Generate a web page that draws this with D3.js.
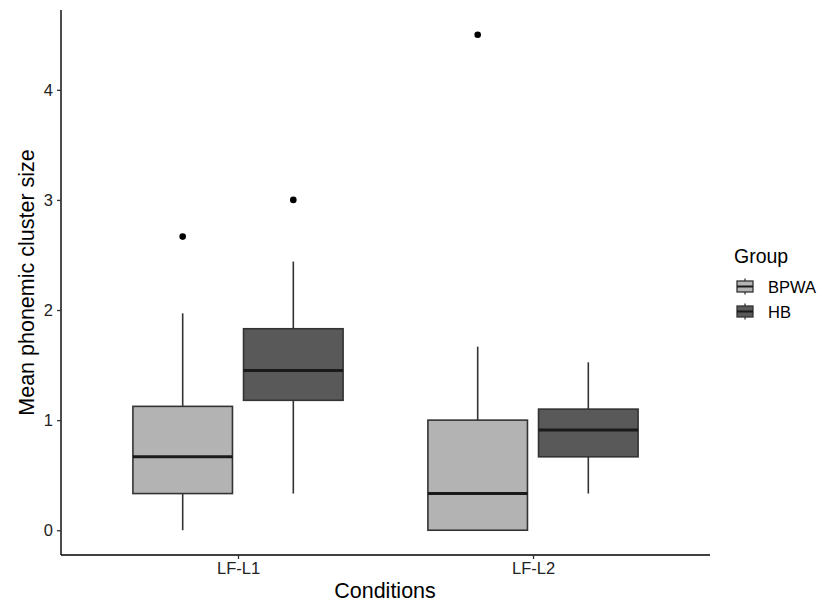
<!DOCTYPE html>
<html>
<head>
<meta charset="utf-8">
<script src="https://cdn.jsdelivr.net/npm/d3@7"></script>
<style>
  body { margin: 0; background: #fff; }
  svg { font-family: "Liberation Sans", Arial, sans-serif; }
</style>
</head>
<body>
<svg id="chart" width="823" height="605"></svg>
<script>
// boxplot data
const conditions = ['LF-L1', 'LF-L2'];
const groups = ['BPWA', 'HB'];
const yTicks = [0, 1, 2, 3, 4];

// one entry per condition x group: [lowerWhisker, q1, median, q3, upperWhisker]
const statsBPWA = [
  [0, 0.333, 0.667, 1.125, 1.97],
  [0, 0, 0.333, 1.0, 1.667]
];
const statsHB = [
  [0.333, 1.18, 1.45, 1.83, 2.44],
  [0.333, 0.667, 0.91, 1.1, 1.525]
];
const outliersBPWA = [[2.667], [4.5]];
const outliersHB = [[3.0], []];

const fills = { BPWA: '#b3b3b3', HB: '#595959' };

const svg = d3.select('#chart');
const margin = { left: 61, right: 113, top: 10, bottom: 50 };
const width = 823, height = 605;
const x0 = margin.left, x1 = width - margin.right;
const yTop = margin.top, yBot = height - margin.bottom;

// ggplot-like expansion: 5% continuous, 0.6 units discrete
const yMin = 0, yMax = 4.5, pad = (yMax - yMin) * 0.05;
const y = d3.scaleLinear().domain([yMin - pad, yMax + pad]).range([yBot, yTop]);
const xPos = d3.scaleLinear().domain([0.4, 2.6]).range([x0, x1]);

const boxes = [];
conditions.forEach((c, i) => {
  groups.forEach((g, j) => {
    const s = (g === 'BPWA' ? statsBPWA : statsHB)[i];
    const out = (g === 'BPWA' ? outliersBPWA : outliersHB)[i];
    boxes.push({ cond: c, group: g, ci: i + 1, off: j === 0 ? -0.1875 : 0.1875,
      lo: s[0], q1: s[1], med: s[2], q3: s[3], hi: s[4], out });
  });
});
const halfW = 0.3375 / 2;

const g = svg.append('g');

// whiskers
g.selectAll('line.whisk-up').data(boxes).enter().append('line')
  .attr('x1', d => xPos(d.ci + d.off)).attr('x2', d => xPos(d.ci + d.off))
  .attr('y1', d => y(d.q3)).attr('y2', d => y(d.hi))
  .attr('stroke', '#333').attr('stroke-width', 1.6);
g.selectAll('line.whisk-lo').data(boxes).enter().append('line')
  .attr('x1', d => xPos(d.ci + d.off)).attr('x2', d => xPos(d.ci + d.off))
  .attr('y1', d => y(d.q1)).attr('y2', d => y(d.lo))
  .attr('stroke', '#333').attr('stroke-width', 1.6);

// boxes
g.selectAll('rect.box').data(boxes).enter().append('rect')
  .attr('x', d => xPos(d.ci + d.off - halfW))
  .attr('width', d => xPos(d.ci + d.off + halfW) - xPos(d.ci + d.off - halfW))
  .attr('y', d => y(d.q3))
  .attr('height', d => y(d.q1) - y(d.q3))
  .attr('fill', d => fills[d.group])
  .attr('stroke', '#333').attr('stroke-width', 1.6);

// medians
g.selectAll('line.med').data(boxes).enter().append('line')
  .attr('x1', d => xPos(d.ci + d.off - halfW)).attr('x2', d => xPos(d.ci + d.off + halfW))
  .attr('y1', d => y(d.med)).attr('y2', d => y(d.med))
  .attr('stroke', '#1a1a1a').attr('stroke-width', 3);

// outliers
const outPts = boxes.flatMap(d => d.out.map(v => ({ x: d.ci + d.off, v })));
g.selectAll('circle.out').data(outPts).enter().append('circle')
  .attr('cx', d => xPos(d.x)).attr('cy', d => y(d.v)).attr('r', 3.3)
  .attr('fill', '#000');

// axes
const yAxis = svg.append('g').attr('transform', `translate(${x0},0)`)
  .call(d3.axisLeft(y).tickValues(yTicks).tickFormat(d3.format('d')).tickSize(4).tickPadding(4));
const xAxis = svg.append('g').attr('transform', `translate(0,${yBot})`)
  .call(d3.axisBottom(xPos).tickValues([1, 2]).tickFormat((d, i) => conditions[i]).tickSize(4).tickPadding(3));
[yAxis, xAxis].forEach(a => {
  a.select('.domain').attr('stroke', '#000').attr('stroke-width', 1.4);
  a.selectAll('.tick line').attr('stroke', '#333').attr('stroke-width', 1.3);
  a.selectAll('.tick text').attr('fill', '#222').style('font-size', '16.5px')
    .style('font-family', '"Liberation Sans", Arial, sans-serif');
});
yAxis.select('.domain').attr('d', `M0,${yTop}V${yBot}`);
xAxis.select('.domain').attr('d', `M${x0},0H${x1}`);

// axis titles
svg.append('text').attr('x', 385).attr('y', 598)
  .attr('text-anchor', 'middle').style('font-size', '21.5px').attr('fill', '#000')
  .text('Conditions');
svg.append('text')
  .attr('transform', `translate(34,${(yTop + yBot) / 2}) rotate(-90)`)
  .attr('text-anchor', 'middle').style('font-size', '21.5px').attr('fill', '#000')
  .text('Mean phonemic cluster size');

// legend
const leg = svg.append('g').attr('transform', 'translate(733,0)');
leg.append('text').attr('x', 1).attr('y', 263).style('font-size', '19.5px').attr('fill', '#000').text('Group');
groups.forEach((gr, i) => {
  const cy = 286.5 + i * 25;
  const k = leg.append('g');
  k.append('line').attr('x1', 12).attr('x2', 12).attr('y1', cy - 8).attr('y2', cy + 8)
    .attr('stroke', '#333').attr('stroke-width', 1.3);
  k.append('rect').attr('x', 4).attr('y', cy - 5.5).attr('width', 16).attr('height', 11)
    .attr('fill', fills[gr]).attr('stroke', '#333').attr('stroke-width', 1.3);
  k.append('line').attr('x1', 4).attr('x2', 20).attr('y1', cy).attr('y2', cy)
    .attr('stroke', '#1a1a1a').attr('stroke-width', 2);
  leg.append('text').attr('x', 35).attr('y', cy + 6).style('font-size', '16.5px').attr('fill', '#000').text(gr);
});
</script>
</body>
</html>
